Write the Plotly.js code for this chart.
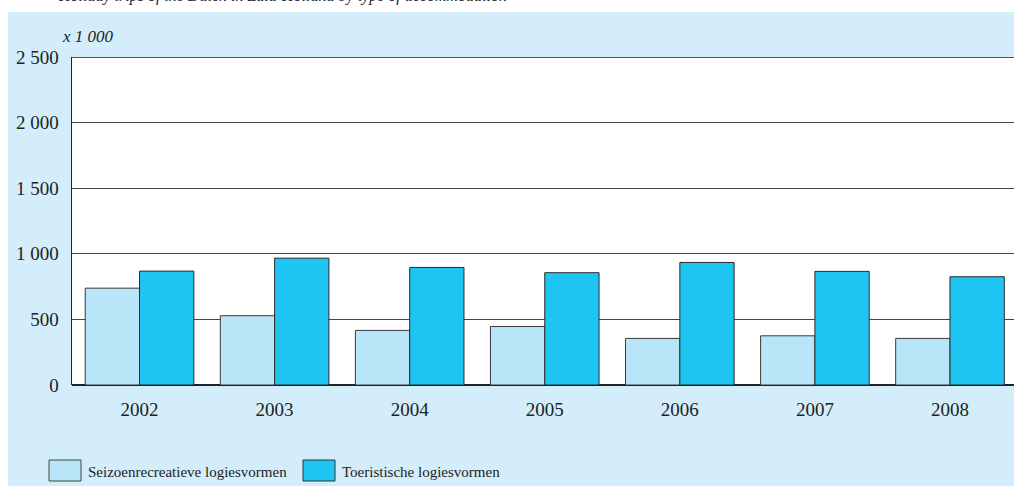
<!DOCTYPE html>
<html>
<head>
<meta charset="utf-8">
<script src="https://cdn.plot.ly/plotly-3.0.1.min.js"></script>
<style>html,body{margin:0;padding:0;background:#fff;}#chart{width:1014px;height:486px;}</style>
</head>
<body>
<div id="chart"></div>
<script>
const years = ['2002','2003','2004','2005','2006','2007','2008'];
const seizoen = [738, 528, 416, 446, 355, 375, 355];
const toeristisch = [868, 967, 896, 856, 934, 866, 825];
const seriesNames = ['Seizoenrecreatieve logiesvormen', 'Toeristische logiesvormen'];
const yTickVals = [0, 500, 1000, 1500, 2000, 2500];
const yTickText = ['0', '500', '1 000', '1 500', '2 000', '2 500'];
const chartTitle = 'Holiday trips of the Dutch in Zuid-Holland by type of accommodation';
const unitLabel = 'x 1 000';

const lightC = '#b9e5f8';
const darkC = '#1fc5f2';
const bgC = '#d3eefa';
const FONT = 'Liberation Serif, Times New Roman, serif';

const W = 942, L = 72, T = 57, H = 328;
const px = x => (x - L) / W;
const py = y => (T + H - y) / H;

const traces = [
  {type:'bar', x: years, y: seizoen, name: seriesNames[0],
   marker:{color: lightC, line:{color:'#3a3a3a', width:1}}},
  {type:'bar', x: years, y: toeristisch, name: seriesNames[1],
   marker:{color: darkC, line:{color:'#2a2a2a', width:1}}}
];

const layout = {
  width: 1014, height: 486,
  margin: {l: L, r: 0, t: T, b: 486 - T - H},
  paper_bgcolor: '#ffffff',
  plot_bgcolor: '#ffffff',
  barmode: 'group',
  bargap: 0.196,
  bargroupgap: 0,
  showlegend: false,
  font: {family: FONT, color: '#222', size: 16},
  xaxis: {
    type: 'category',
    range: [-0.5, 6.474],
    showgrid: false, showline: false, ticks: '',
    ticklabelstandoff: 11,
    tickfont: {family: FONT, size: 19, color: '#222'},
    fixedrange: true
  },
  yaxis: {
    range: [0, 2500],
    tickvals: yTickVals, ticktext: yTickText,
    showgrid: true, gridcolor: '#444', gridwidth: 1,
    zeroline: true, zerolinecolor: '#222', zerolinewidth: 2,
    showline: true, linecolor: '#222', linewidth: 1.5,
    ticks: '', ticklabelstandoff: 8,
    tickfont: {family: FONT, size: 19, color: '#222'},
    fixedrange: true
  },
  shapes: [
    {type:'rect', xref:'paper', yref:'paper', x0: px(8), x1: 1.01, y0: py(490), y1: py(12),
     fillcolor: bgC, line:{width:0}, layer:'below'},
    {type:'rect', xref:'paper', yref:'paper', x0: 0, x1: 1.01, y0: 0, y1: 1,
     fillcolor: '#ffffff', line:{width:0}, layer:'below'},
    {type:'line', xref:'paper', yref:'y', x0: 0, x1: 1, y0: 2500, y1: 2500,
     line:{color:'#555', width:2}},
    {type:'rect', xref:'paper', yref:'paper', x0: px(49), x1: px(81), y0: py(481), y1: py(460),
     fillcolor: lightC, line:{color:'#444', width:1}},
    {type:'rect', xref:'paper', yref:'paper', x0: px(303), x1: px(335), y0: py(481), y1: py(460),
     fillcolor: darkC, line:{color:'#333', width:1}}
  ],
  annotations: [
    {xref:'paper', yref:'paper', x: px(56), y: py(7), xanchor:'left', yanchor:'bottom',
     text: '<i>' + chartTitle + '</i>', showarrow:false,
     font:{family: FONT, size: 16, color:'#222'}},
    {xref:'paper', yref:'paper', x: px(60), y: py(36), xanchor:'left', yanchor:'middle',
     text: '<i>' + unitLabel + '</i>', showarrow:false,
     font:{family: FONT, size: 17, color:'#222'}},
    {xref:'paper', yref:'paper', x: px(86), y: py(472), xanchor:'left', yanchor:'middle',
     text: seriesNames[0], showarrow:false,
     font:{family: FONT, size: 15, color:'#222'}},
    {xref:'paper', yref:'paper', x: px(340), y: py(472), xanchor:'left', yanchor:'middle',
     text: seriesNames[1], showarrow:false,
     font:{family: FONT, size: 15, color:'#222'}}
  ]
};

Plotly.newPlot('chart', traces, layout, {displayModeBar:false, staticPlot:true});
</script>
</body>
</html>
